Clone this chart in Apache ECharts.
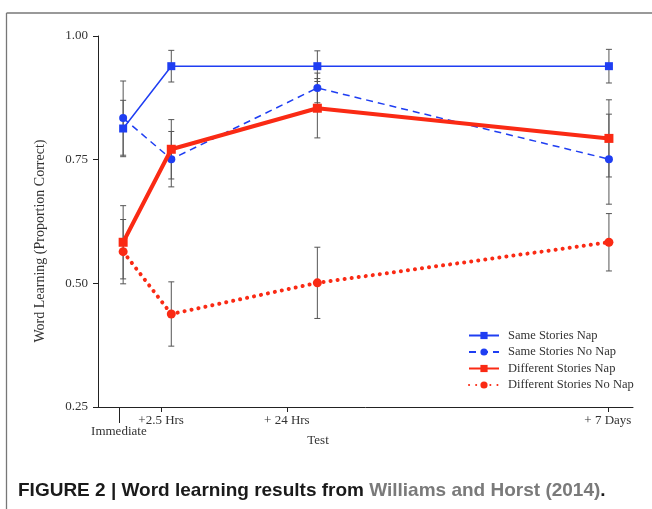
<!DOCTYPE html>
<html>
<head>
<meta charset="utf-8">
<script src="https://cdn.jsdelivr.net/npm/echarts@6/dist/echarts.min.js"></script>
<style>html,body{margin:0;padding:0;background:#fff}#c{width:652px;height:509px}</style>
</head>
<body>
<div id="c"></div>
<script>
// Positions along the (unitless) test axis
var dataX = [4.7, 13.7, 41.0, 95.5];
var tickX = [11.8, 35.3, 95.3];
var tickLabels = ['+2.5 Hrs', '+ 24 Hrs', '+ 7 Days'];
var immediateX = [3.9];
var immediateLabel = ['Immediate'];
var yTicks = [0.25, 0.50, 0.75, 1.00];

var seriesNames = ['Same Stories Nap', 'Same Stories No Nap', 'Different Stories Nap', 'Different Stories No Nap'];
var sameNap = [0.813, 0.939, 0.939, 0.939];
var sameNapErr = [0.057, 0.032, 0.031, 0.034];
var sameNoNap = [0.834, 0.751, 0.895, 0.751];
var sameNoNapErr = [0.075, 0.056, 0.030, 0.091];
var diffNap = [0.583, 0.771, 0.854, 0.793];
var diffNapErr = [0.074, 0.060, 0.060, 0.078];
var diffNoNap = [0.564, 0.438, 0.501, 0.583];
var diffNoNapErr = [0.065, 0.065, 0.072, 0.058];

var BLUE = '#1f3ef2';
var RED = '#fa2a14';
var SERIF = 'Liberation Serif';

function pts(vals) { return vals.map(function (v, i) { return [dataX[i], v]; }); }
function errData(vals, errs) { return vals.map(function (v, i) { return [dataX[i], v - errs[i], v + errs[i]]; }); }

function errSeries(vals, errs) {
  return {
    type: 'custom', xAxisIndex: 0, yAxisIndex: 0, z: 1, silent: true,
    data: errData(vals, errs),
    renderItem: function (params, api) {
      var x = api.value(0);
      var lo = api.coord([x, api.value(1)]);
      var hi = api.coord([x, api.value(2)]);
      var w = 3;
      var st = { stroke: '#555', lineWidth: 1 };
      return {
        type: 'group', children: [
          { type: 'line', shape: { x1: lo[0], y1: lo[1], x2: hi[0], y2: hi[1] }, style: st },
          { type: 'line', shape: { x1: lo[0] - w, y1: lo[1], x2: lo[0] + w, y2: lo[1] }, style: st },
          { type: 'line', shape: { x1: hi[0] - w, y1: hi[1], x2: hi[0] + w, y2: hi[1] }, style: st }
        ]
      };
    }
  };
}

var chart = echarts.init(document.getElementById('c'));
chart.setOption({
  animation: false,
  grid: { left: 98, right: 19, top: 36, bottom: 102 },
  xAxis: [{
    type: 'value', min: 0, max: 100,
    splitLine: { show: false },
    axisLine: { show: true, onZero: false, lineStyle: { color: '#222', width: 1 } },
    axisTick: { show: true, customValues: tickX, length: 5, lineStyle: { color: '#222' } },
    axisLabel: {
      customValues: tickX, margin: 7, color: '#333', fontFamily: SERIF, fontSize: 13,
      formatter: function (v) { var i = tickX.indexOf(v); return i >= 0 ? tickLabels[i] : ''; }
    }
  }, {
    type: 'value', min: 0, max: 100, position: 'bottom',
    splitLine: { show: false },
    axisLine: { show: false, onZero: false },
    axisTick: { show: true, customValues: immediateX, length: 16, lineStyle: { color: '#222' } },
    axisLabel: {
      customValues: immediateX, margin: 18, color: '#333', fontFamily: SERIF, fontSize: 13,
      formatter: function (v) { return immediateLabel[0]; }
    }
  }],
  yAxis: {
    type: 'value', min: 0.25, max: 1.0, interval: 0.25,
    splitLine: { show: false },
    axisLine: { show: true, lineStyle: { color: '#222', width: 1 } },
    axisTick: { show: true, length: 5, lineStyle: { color: '#222' } },
    axisLabel: {
      margin: 10, color: '#333', fontFamily: SERIF, fontSize: 13,
      formatter: function (v) { return v.toFixed(2); }
    }
  },
  legend: {
    orient: 'vertical', left: 468, top: 329, padding: 0, itemWidth: 30, itemHeight: 9, itemGap: 3.5,
    textStyle: { fontFamily: SERIF, fontSize: 12.5, color: '#333', padding: [0, 0, 0, 4] },
    data: seriesNames
  },
  graphic: [
    { type: 'line', shape: { x1: 6.5, y1: 13, x2: 652, y2: 13 }, style: { stroke: '#777', lineWidth: 1.3 } },
    { type: 'line', shape: { x1: 6.5, y1: 13, x2: 6.5, y2: 509 }, style: { stroke: '#777', lineWidth: 1.3 } },
    {
      type: 'text', x: 40, y: 241, rotation: Math.PI / 2,
      style: { text: 'Word Learning (Proportion Correct)', fontFamily: SERIF, fontSize: 14, fill: '#333', align: 'center', verticalAlign: 'middle' }
    },
    { type: 'text', x: 318, y: 441, style: { text: 'Test', fontFamily: SERIF, fontSize: 13, fill: '#333', align: 'center', verticalAlign: 'middle' } },
    {
      type: 'text', left: 18, top: 481,
      style: {
        text: '{a|FIGURE 2 | Word learning results from }{b|Williams and Horst (2014)}{a|.}',
        rich: {
          a: { fontFamily: 'Liberation Sans', fontWeight: 'bold', fontSize: 19, fill: '#1a1a1a' },
          b: { fontFamily: 'Liberation Sans', fontWeight: 'bold', fontSize: 19, fill: '#7a7a7a' }
        }
      }
    }
  ],
  series: [
    errSeries(sameNap, sameNapErr),
    errSeries(sameNoNap, sameNoNapErr),
    errSeries(diffNap, diffNapErr),
    errSeries(diffNoNap, diffNoNapErr),
    {
      name: seriesNames[0], type: 'line', z: 3, data: pts(sameNap),
      symbol: 'rect', symbolSize: 8, color: BLUE,
      lineStyle: { color: BLUE, width: 1.5 }, itemStyle: { color: BLUE }
    },
    {
      name: seriesNames[1], type: 'line', z: 3, data: pts(sameNoNap),
      symbol: 'circle', symbolSize: 8, color: BLUE,
      lineStyle: { color: BLUE, width: 1.5, type: [7, 5] }, itemStyle: { color: BLUE }
    },
    {
      name: seriesNames[2], type: 'line', z: 4, data: pts(diffNap),
      symbol: 'rect', symbolSize: 9, color: RED,
      lineStyle: { color: RED, width: 4 }, itemStyle: { color: RED }
    },
    {
      name: seriesNames[3], type: 'line', z: 4, data: pts(diffNoNap),
      symbol: 'circle', symbolSize: 9, color: RED,
      lineStyle: { color: RED, width: 4, type: [0.1, 7], cap: 'round' }, itemStyle: { color: RED }
    }
  ]
});
</script>
</body>
</html>
